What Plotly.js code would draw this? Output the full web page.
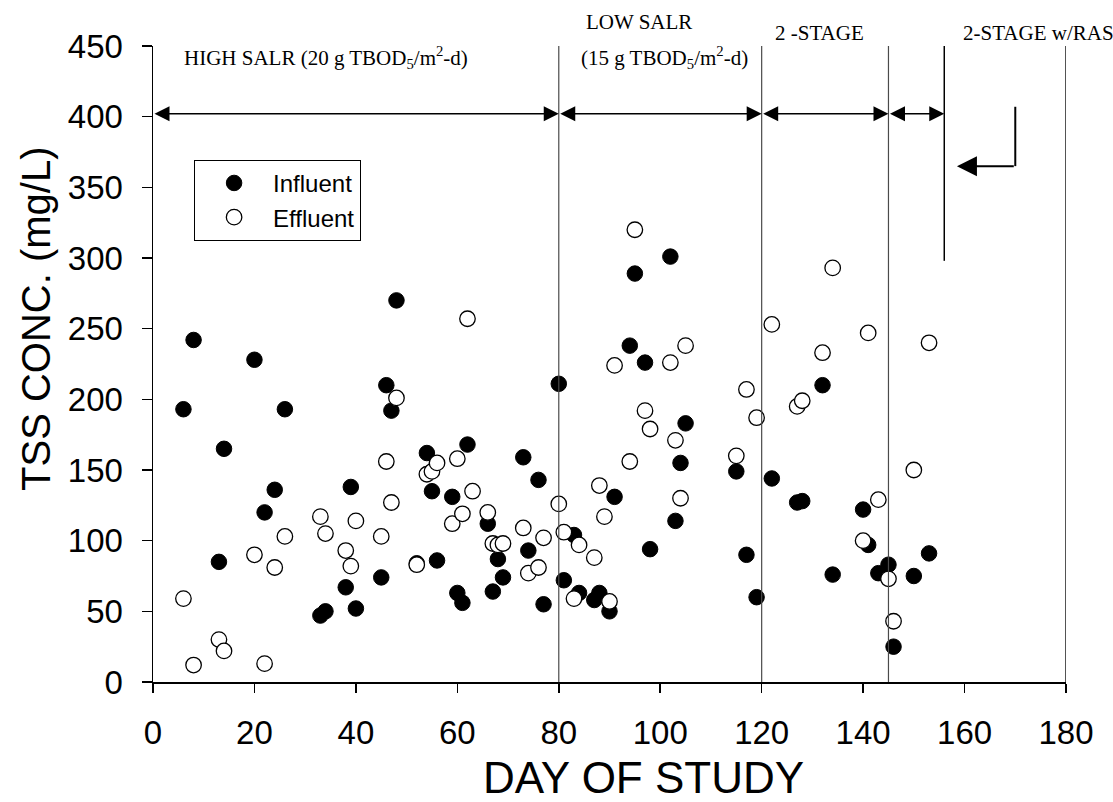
<!DOCTYPE html>
<html>
<head>
<meta charset="utf-8">
<script src="https://cdn.plot.ly/plotly-3.0.1.min.js"></script>
<style>
  html, body { margin: 0; padding: 0; background: #ffffff; }
  #chart { width: 1113px; height: 802px; }
</style>
</head>
<body>
<div id="chart"></div>
<script>
// TSS concentration (mg/L) by day of study
const influentDay = [6, 8, 13, 14, 20, 22, 24, 26, 33, 34, 38, 39, 40, 45, 46, 47, 48, 52, 54, 55,
  56, 59, 60, 61, 62, 66, 67, 68, 69, 73, 74, 76, 77, 80, 81, 83, 84, 87, 88, 90,
  91, 94, 95, 97, 98, 102, 103, 104, 105, 115, 117, 119, 122, 127, 128, 132, 134, 140, 141, 143,
  145, 146, 150, 153];
const influentTss = [193, 242, 85, 165, 228, 120, 136, 193, 47, 50, 67, 138, 52, 74, 210, 192, 270, 84, 162, 135,
  86, 131, 63, 56, 168, 112, 64, 87, 74, 159, 93, 143, 55, 211, 72, 104, 63, 58, 63, 50,
  131, 238, 289, 226, 94, 301, 114, 155, 183, 149, 90, 60, 144, 127, 128, 210, 76, 122, 97, 77,
  83, 25, 75, 91];

const effluentDay = [6, 8, 13, 14, 20, 22, 24, 26, 33, 34, 38, 39, 40, 45, 46, 47, 48, 52, 54, 55,
  56, 59, 60, 61, 62, 63, 66, 67, 68, 69, 73, 74, 76, 77, 80, 81, 83, 84, 87, 88,
  89, 90, 91, 94, 95, 97, 98, 102, 103, 104, 105, 115, 117, 119, 122, 127, 128, 132, 134, 140,
  141, 143, 145, 146, 150, 153];
const effluentTss = [59, 12, 30, 22, 90, 13, 81, 103, 117, 105, 93, 82, 114, 103, 156, 127, 201, 83, 147, 149,
  155, 112, 158, 119, 257, 135, 120, 98, 97, 98, 109, 77, 81, 102, 126, 106, 59, 97, 88, 139,
  117, 57, 224, 156, 320, 192, 179, 226, 171, 130, 238, 160, 207, 187, 253, 195, 199, 233, 293, 100,
  247, 129, 73, 43, 150, 240];

// Operating phases: boundaries (days) and labels
const phaseBounds = [0, 80, 120, 145, 156];
const studyEnd = 180;
const phaseArrowLevel = 402;          // mg/L level of the double-headed phase arrows
const rasLineBottom = 298;            // lower end of the RAS start marker
const rasArrow = { day: 170, top: 407, level: 365, tip: 158.5 };

const serif = '"Liberation Serif", "Times New Roman", Times, serif';
const sans = '"Liberation Sans", Arial, Helvetica, sans-serif';

const phaseLabels = [
  { text: 'HIGH SALR (20 g TBOD<sub>5</sub>/m<sup>2</sup>-d)', x: 34.2, y: 442, yref: 'y' },
  { text: 'LOW SALR', x: 95.8, y: 1.037, yref: 'paper' },
  { text: '(15 g TBOD<sub>5</sub>/m<sup>2</sup>-d)', x: 100.8, y: 442, yref: 'y' },
  { text: '2 -STAGE', x: 131.4, y: 1.02, yref: 'paper' },
  { text: '2-STAGE w/RAS', x: 174.6, y: 1.02, yref: 'paper' }
];

const traces = [
  {
    x: influentDay, y: influentTss, name: 'Influent', type: 'scatter', mode: 'markers',
    marker: { symbol: 'circle', size: 15.5, color: '#000000', line: { color: '#000000', width: 1 } },
    cliponaxis: false
  },
  {
    x: effluentDay, y: effluentTss, name: 'Effluent', type: 'scatter', mode: 'markers',
    marker: { symbol: 'circle', size: 15.5, color: '#ffffff', line: { color: '#000000', width: 1.3 } },
    cliponaxis: false
  }
];

const shapes = [];
// phase boundary lines
phaseBounds.slice(1, 4).forEach(d => {
  shapes.push({ type: 'line', xref: 'x', yref: 'y', x0: d, x1: d, y0: 0, y1: 450,
    line: { color: '#4a4a4a', width: 1.2 } });
});
// end of study frame line
shapes.push({ type: 'line', xref: 'x', yref: 'y', x0: studyEnd, x1: studyEnd, y0: 0, y1: 450,
  line: { color: '#1a1a1a', width: 1.5 } });
// start of RAS operation
shapes.push({ type: 'line', xref: 'x', yref: 'y', x0: phaseBounds[4], x1: phaseBounds[4],
  y0: rasLineBottom, y1: 450, line: { color: '#000000', width: 1.5 } });
// vertical leg of the RAS pointer
shapes.push({ type: 'line', xref: 'x', yref: 'y', x0: rasArrow.day, x1: rasArrow.day,
  y0: rasArrow.level, y1: rasArrow.top, line: { color: '#000000', width: 2 } });

const annotations = [];
// double-headed arrows spanning each phase
for (let i = 0; i < phaseBounds.length - 1; i++) {
  annotations.push({
    x: phaseBounds[i + 1], y: phaseArrowLevel, ax: phaseBounds[i], ay: phaseArrowLevel,
    xref: 'x', yref: 'y', axref: 'x', ayref: 'y', text: '', showarrow: true,
    arrowside: 'end+start', arrowhead: 2, startarrowhead: 2,
    arrowsize: 2, startarrowsize: 2, arrowwidth: 1.5, arrowcolor: '#000000',
    standoff: 0, startstandoff: 0
  });
}
// RAS pointer head
annotations.push({
  x: rasArrow.tip, y: rasArrow.level, ax: rasArrow.day, ay: rasArrow.level,
  xref: 'x', yref: 'y', axref: 'x', ayref: 'y', text: '', showarrow: true,
  arrowhead: 2, arrowsize: 2, arrowwidth: 2, arrowcolor: '#000000', standoff: 0
});
// phase labels
phaseLabels.forEach(p => {
  annotations.push({
    text: p.text, x: p.x, y: p.y, xref: 'x', yref: p.yref, showarrow: false,
    xanchor: 'center', yanchor: 'middle',
    font: { family: serif, size: 21, color: '#000000' }
  });
});
// axis titles
annotations.push({
  text: 'TSS CONC. (mg/L)', textangle: -90, xref: 'paper', yref: 'paper',
  x: -0.128, y: 0.571, showarrow: false, xanchor: 'center', yanchor: 'middle',
  font: { family: sans, size: 40, color: '#000000' }
});
annotations.push({
  text: 'DAY OF STUDY', xref: 'paper', yref: 'paper',
  x: 0.537, y: -0.1915, showarrow: false, xanchor: 'center', yanchor: 'bottom',
  font: { family: sans, size: 44, color: '#000000' }
});

const layout = {
  width: 1113, height: 802,
  margin: { l: 153, r: 47, t: 46, b: 120, pad: 0 },
  paper_bgcolor: '#ffffff', plot_bgcolor: '#ffffff',
  font: { family: sans, color: '#000000' },
  showlegend: true,
  legend: {
    x: 0.045, y: 0.821, xanchor: 'left', yanchor: 'top',
    bgcolor: '#ffffff', bordercolor: '#000000', borderwidth: 1,
    font: { family: sans, size: 24, color: '#000000' },
    itemwidth: 68, tracegroupgap: 0
  },
  xaxis: {
    range: [0, 180], tickmode: 'linear', tick0: 0, dtick: 20,
    showgrid: false, zeroline: false, showline: true, linecolor: '#000000', linewidth: 1.5,
    ticks: 'outside', ticklen: 9, tickwidth: 1.5, tickcolor: '#000000',
    tickfont: { family: sans, size: 33, color: '#000000' }, ticklabelstandoff: 12
  },
  yaxis: {
    range: [0, 450], tickmode: 'linear', tick0: 0, dtick: 50,
    showgrid: false, zeroline: false, showline: true, linecolor: '#000000', linewidth: 1.5,
    ticks: 'outside', ticklen: 10, tickwidth: 1.5, tickcolor: '#000000',
    tickfont: { family: sans, size: 33, color: '#000000' }, ticklabelstandoff: 12
  },
  shapes: shapes,
  annotations: annotations
};

Plotly.newPlot('chart', traces, layout, { staticPlot: true, displayModeBar: false });
</script>
</body>
</html>
